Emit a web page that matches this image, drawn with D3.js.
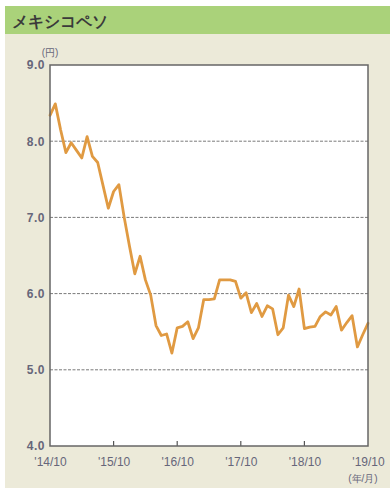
<!DOCTYPE html>
<html>
<head>
<meta charset="utf-8">
<script src="https://cdn.jsdelivr.net/npm/d3@7"></script>
<style>
  html, body { margin: 0; padding: 0; background: #ffffff; }
  svg { display: block; }
  text { font-family: "Liberation Sans", "Noto Sans", sans-serif; }
</style>
</head>
<body>
<svg id="chart" width="390" height="489"></svg>
<script>
// Monthly MXN/JPY rate, Oct 2014 – Oct 2019 (yen per peso)
const pesoYen = [
  8.34, 8.49, 8.15, 7.85, 7.98, 7.88, 7.78, 8.06, 7.80, 7.72,
  7.42, 7.12, 7.34, 7.43, 7.00, 6.62, 6.26, 6.49, 6.18, 5.98,
  5.58, 5.45, 5.47, 5.22, 5.55, 5.57, 5.63, 5.41, 5.55, 5.92,
  5.92, 5.93, 6.18, 6.18, 6.18, 6.16, 5.94, 6.01, 5.75, 5.87,
  5.70, 5.84, 5.80, 5.46, 5.55, 5.98, 5.83, 6.06, 5.54, 5.56,
  5.57, 5.70, 5.76, 5.72, 5.83, 5.52, 5.62, 5.71, 5.30, 5.46,
  5.61
];
const xTickMonths = [0, 12, 24, 36, 48, 60];
const xTickLabels = ["'14/10", "'15/10", "'16/10", "'17/10", "'18/10", "'19/10"];
const yTicks = [4, 5, 6, 7, 8, 9];
const gridValues = [5, 6, 7, 8];
const titleText = "メキシコペソ";

const svg = d3.select("#chart");

// Panel backgrounds
svg.append("rect").attr("x", 5).attr("y", 34).attr("width", 385).attr("height", 454).attr("fill", "#ecead9");
svg.append("rect").attr("x", 5).attr("y", 6).attr("width", 385).attr("height", 28).attr("fill", "#aad27a");
svg.append("text").attr("x", 12).attr("y", 27)
  .attr("font-family", "'Noto Sans CJK JP', sans-serif")
  .attr("font-size", 16).attr("font-weight", 700).attr("fill", "#3a3a3a")
  .text(titleText);

const plot = { left: 50, right: 368, top: 65, bottom: 446 };
const x = d3.scaleLinear().domain([0, pesoYen.length - 1]).range([plot.left, plot.right]);
const y = d3.scaleLinear().domain([4, 9]).range([plot.bottom, plot.top]);

// Plot area
svg.append("rect")
  .attr("x", plot.left).attr("y", plot.top)
  .attr("width", plot.right - plot.left).attr("height", plot.bottom - plot.top)
  .attr("fill", "#ffffff");

// Dashed gridlines
svg.append("g").selectAll("line").data(gridValues).join("line")
  .attr("x1", plot.left).attr("x2", plot.right)
  .attr("y1", d => y(d)).attr("y2", d => y(d))
  .attr("stroke", "#7a7a7a").attr("stroke-width", 1)
  .attr("stroke-dasharray", "3,1.5");

// Y axis labels
const yAxis = d3.axisLeft(y).tickValues(yTicks).tickFormat(d3.format(".1f")).tickSize(0).tickPadding(5);
const gy = svg.append("g").attr("transform", `translate(${plot.left},0)`).call(yAxis);
gy.select(".domain").remove();
gy.selectAll("text").attr("font-size", 12).attr("fill", "#66667a").attr("font-weight", 700)
  .attr("letter-spacing", "0.5px");

// X axis with inward ticks
const xAxis = d3.axisBottom(x).tickValues(xTickMonths)
  .tickFormat((d, i) => xTickLabels[i]).tickSize(0).tickPadding(11);
const gx = svg.append("g").attr("transform", `translate(0,${plot.bottom})`).call(xAxis);
gx.select(".domain").remove();
gx.selectAll("text").attr("font-size", 12).attr("fill", "#66667a");
svg.append("g").selectAll("line").data(xTickMonths.slice(1, -1)).join("line")
  .attr("x1", d => x(d)).attr("x2", d => x(d))
  .attr("y1", plot.bottom).attr("y2", plot.bottom - 5)
  .attr("stroke", "#555").attr("stroke-width", 1.2);

// Unit labels
svg.append("text").attr("x", 50).attr("y", 56).attr("text-anchor", "middle")
  .attr("font-family", "'Noto Sans CJK JP', sans-serif")
  .attr("font-size", 10).attr("fill", "#66667a").text("(円)");
svg.append("text").attr("x", 363).attr("y", 482).attr("text-anchor", "middle")
  .attr("font-family", "'Noto Sans CJK JP', sans-serif")
  .attr("font-size", 10).attr("fill", "#66667a").text("(年/月)");

// Rate line
const line = d3.line().x((d, i) => x(i)).y(d => y(d)).curve(d3.curveLinear);
svg.append("path").datum(pesoYen)
  .attr("d", line)
  .attr("fill", "none").attr("stroke", "#e09a42").attr("stroke-width", 2.8)
  .attr("stroke-linejoin", "round").attr("stroke-linecap", "round");

// Frame
svg.append("rect")
  .attr("x", plot.left).attr("y", plot.top)
  .attr("width", plot.right - plot.left).attr("height", plot.bottom - plot.top)
  .attr("fill", "none").attr("stroke", "#666").attr("stroke-width", 1.5);
</script>
</body>
</html>
